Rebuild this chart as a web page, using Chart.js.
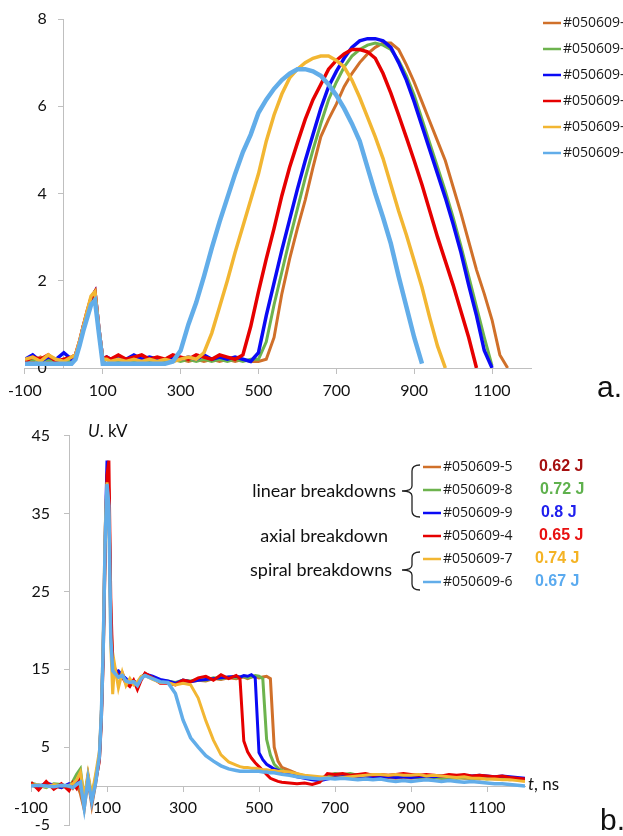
<!DOCTYPE html>
<html><head><meta charset="utf-8">
<script src="https://cdn.jsdelivr.net/npm/chart.js@4.4.1/dist/chart.umd.min.js"></script>
<style>
html,body{margin:0;padding:0;background:#fff;overflow:hidden;width:623px;height:836px;}
canvas{position:absolute;left:0;display:block;}
#ca{top:0;}
#cb{top:410px;}
</style></head><body>
<canvas id="ca" width="623" height="410" style="width:623px;height:410px"></canvas>
<canvas id="cb" width="623" height="426" style="width:623px;height:426px"></canvas>
<script>
// ---------- shared ----------
const seriesNames = ['#050609-5','#050609-8','#050609-9','#050609-4','#050609-7','#050609-6'];
const seriesColors = ['#D0702A','#6DB34E','#0A0AF5','#E60000','#F2B632','#62ADE9'];
const xTicks = [-100,100,300,500,700,900,1100];

// ---------- chart a (top) ----------
const yTicksA = [0,2,4,6,8];
const tA = [-100,-80,-60,-40,-20,0,20,30,40,50,60,70,80,90,100,110,120,140,160,180,200,220,240,260,280,300,320,340,360,380,400,420,440,460,480,500,520,540,560,580,600,620,640,660,680,700,720,740,760,780,800,820,840,860,880,900,920,940,960,980,1000,1020,1040,1060,1080,1100,1120,1140,1160,1180,1200];
const a5 = [0.2,0.15,0.25,0.15,0.2,0.15,0.2, 0.25,0.55,0.9,1.25,1.6,1.7,0.85,0.15,0.2,
  0.15,0.2,0.15,0.2,0.15,0.2,0.15,0.2,0.15,0.2,0.15,0.2,0.15,0.2,0.15,0.2,0.15,0.2,0.15,0.15,
  0.2,0.7,1.7,2.5,3.2,3.85,4.6,5.3,5.7,6.05,6.45,6.75,7.0,7.2,7.35,7.45,7.45,7.3,6.95,6.55,6.1,5.65,5.2,4.75,4.15,3.55,2.9,2.25,1.7,1.1,0.3,0,null,null,null];
const a8 = [0.15,0.2,0.15,0.2,0.15,0.2,0.15, 0.25,0.5,0.9,1.2,1.55,1.7,0.8,0.15,0.2,
  0.2,0.15,0.2,0.15,0.2,0.15,0.2,0.15,0.2,0.15,0.2,0.15,0.2,0.15,0.2,0.15,0.2,0.15,0.2,0.2,
  0.6,1.45,2.2,2.95,3.65,4.35,5.0,5.6,6.15,6.55,6.9,7.15,7.3,7.4,7.45,7.4,7.3,7.05,6.7,6.25,5.7,5.15,4.6,4.05,3.45,2.8,2.1,1.4,0.7,0.05,null,null,null,null,null];
const a9 = [0.2,0.3,0.15,0.25,0.2,0.35,0.2, 0.3,0.55,0.95,1.25,1.6,1.75,0.9,0.2,0.25,
  0.2,0.25,0.2,0.3,0.2,0.25,0.2,0.2,0.25,0.2,0.25,0.2,0.3,0.2,0.25,0.2,0.25,0.2,0.15,0.35,
  1.2,1.95,2.7,3.4,4.1,4.75,5.35,5.95,6.45,6.8,7.1,7.35,7.5,7.55,7.55,7.5,7.35,7.0,6.6,6.1,5.55,5.0,4.45,3.9,3.3,2.65,1.9,1.2,0.4,0,null,null,null,null,null];
const a4 = [0.15,0.25,0.2,0.3,0.15,0.2,0.25, 0.3,0.6,0.95,1.3,1.6,1.75,0.9,0.2,0.25,
  0.2,0.3,0.2,0.25,0.3,0.2,0.25,0.2,0.3,0.25,0.2,0.3,0.25,0.2,0.3,0.25,0.2,0.3,0.95,1.75,
  2.5,3.2,3.95,4.6,5.16,5.7,6.15,6.5,6.85,7.05,7.2,7.3,7.3,7.25,7.1,6.75,6.3,5.8,5.28,4.75,4.2,3.6,3.0,2.45,1.9,1.3,0.7,0,null,null,null,null,null,null,null];
const a7 = [0.2,0.25,0.15,0.3,0.2,0.15,0.25, 0.3,0.6,0.95,1.3,1.65,1.75,0.9,0.2,0.2,
  0.15,0.2,0.15,0.2,0.15,0.2,0.15,0.2,0.15,0.2,0.25,0.2,0.35,0.8,1.4,2.0,2.65,3.25,3.85,4.45,
  5.2,5.8,6.28,6.65,6.85,7.0,7.1,7.15,7.15,7.05,6.9,6.6,6.2,5.75,5.3,4.8,4.2,3.6,3.05,2.45,1.85,1.15,0.5,0,null,null,null,null,null,null,null,null,null,null,null];
const a6 = [0.1,0.1,0.1,0.1,0.1,0.1,0.1, 0.2,0.5,0.85,1.15,1.45,1.55,0.8,0.1,0.1,
  0.1,0.1,0.1,0.1,0.1,0.1,0.1,0.1,0.15,0.4,1.0,1.5,2.1,2.75,3.35,3.9,4.45,4.95,5.35,5.85,
  6.15,6.4,6.6,6.75,6.85,6.85,6.8,6.7,6.5,6.25,5.95,5.6,5.2,4.6,4.0,3.45,2.85,2.1,1.4,0.7,0.1,null,null,null,null,null,null,null,null,null,null,null,null,null,null];

// ---------- chart b (bottom) ----------
const yTicksB = [-5,5,15,25,35,45];
const tB = [-100,-80,-60,-40,-20,0,10,20,30,40,50,60,70,80,85,90,95,100,105,110,115,120,130,140,150,160,170,180,190,200,220,240,260,280,300,320,340,360,380,400,420,440,450,460,470,480,490,500,510,520,530,540,550,560,580,600,620,640,660,680,700,720,740,760,780,800,820,840,860,880,900,920,940,960,980,1000,1020,1040,1060,1080,1100,1120,1140,1160,1180,1200];
const b5 = [0.2,-0.3,0.3,0.0,-0.2,0.2,-0.3,0.4,-1.0,-3.0,0.8,-2.5,0.3,3.5,
  9,18,31,40,38,22,15.2,
  14.8,14.2,14.6,13.4,13.2,13.6,12.9,13.8,14.3,13.9,13.5,
  13.4,13.2,13.5,13.4,13.6,13.5,13.8,13.7,13.9,13.8,
  13.9,14.0,13.8,14.0,14.1,13.9,14.0,14.1,13.8,5.0,3.2,2.4,
  2.0,1.6,1.3,1.1,0.9,1.0,1.2,1.3,1.2,1.3,1.2,1.1,1.2,1.1,1.0,1.1,1.0,1.1,1.0,1.1,1.0,1.0,1.1,1.0,1.0,0.9,1.0,0.9,0.9,0.8,0.9,0.8];
const b8 = [0.4,0.1,-0.2,0.3,0.2,-0.1,0.6,1.5,2.2,-1.8,1.4,-1.5,1.2,3.8,
  8.5,17,30,39.5,37,21,15.5,
  15.0,14.5,14.3,13.6,13.4,13.3,13.2,14.0,14.4,14.0,13.6,
  13.5,13.3,13.6,13.5,13.7,13.6,13.9,13.8,14.0,13.9,
  14.0,14.1,13.9,14.0,14.2,14.1,13.8,6.0,4.0,2.8,2.3,2.0,
  1.7,1.3,1.1,0.9,1.0,1.3,1.6,1.5,1.6,1.4,1.5,1.3,1.4,1.3,1.2,1.3,1.2,1.1,1.2,1.1,1.0,1.1,1.0,1.1,1.0,1.0,0.9,1.0,0.9,1.0,0.9,0.8];
const b9 = [0.3,-0.1,0.4,0.1,-0.2,0.3,0.0,0.5,0.8,-2.0,1.0,-1.8,0.8,4.0,
  9,18,32,41.8,37,20,15.0,
  14.6,14.8,14.2,13.8,13.2,13.5,13.0,13.9,14.4,14.1,13.7,
  13.5,13.2,13.6,13.4,13.6,13.7,13.8,13.9,14.0,14.1,
  14.0,14.2,14.1,14.3,13.9,4.3,3.4,2.8,2.5,2.2,2.0,1.8,
  1.5,1.2,1.0,0.8,0.7,0.9,1.1,1.2,1.3,1.2,1.3,1.2,1.1,1.2,1.1,1.2,1.1,1.2,1.3,1.2,1.3,1.2,1.3,1.4,1.3,1.4,1.3,1.2,1.3,1.2,1.1,1.0];
const b4 = [0.5,-0.5,0.6,-0.4,0.3,-0.6,0.4,-0.3,1.0,-2.4,1.2,-2.0,0.6,3.2,
  8,16,29,40,41.8,24,15.8,
  15.2,14.0,14.0,13.2,12.8,13.6,12.4,13.6,14.5,13.9,13.2,
  13.2,13.0,13.6,13.4,13.9,14.1,13.6,14.3,13.8,14.2,
  13.8,5.8,4.4,3.6,3.0,2.5,2.0,1.5,1.0,0.8,0.6,0.5,
  0.4,0.3,0.4,0.2,0.5,1.6,1.5,1.6,1.4,1.5,1.6,1.4,1.5,1.4,1.5,1.6,1.5,1.4,1.5,1.4,1.3,1.5,1.4,1.5,1.3,1.4,1.3,1.2,1.3,1.1,1.0,0.9];
const b7 = [0.1,0.2,-0.1,0.2,0.0,0.1,0.3,0.8,1.8,-1.5,1.6,-1.2,1.5,4.5,
  9.5,19,33,39,35,18,11.8,
  15.6,12.6,14.6,12.9,13.8,13.0,13.4,14.1,14.2,13.7,13.3,
  13.3,13.0,13.2,13.0,11.3,8.4,5.9,4.0,3.1,2.7,
  2.5,2.4,2.4,2.3,2.3,2.2,2.1,2.1,2.0,2.0,1.9,1.9,
  1.8,1.6,1.4,1.3,1.2,1.1,1.0,1.1,1.2,1.3,1.4,1.5,1.5,1.4,1.5,1.4,1.4,1.5,1.3,1.4,1.3,1.2,1.1,1.2,1.0,1.0,0.9,0.9,0.8,0.8,0.7,0.6];
const b6 = [0.0,0.1,0.0,-0.1,0.1,0.0,-0.2,0.2,0.5,-2.8,0.9,-2.0,0.4,3.8,
  9,17.5,31,38.8,36,19,14.8,
  14.5,14.0,14.2,13.5,13.3,13.4,12.9,13.8,14.2,13.8,13.4,
  13.3,11.9,8.5,6.2,5.0,3.9,3.2,2.6,2.2,2.0,
  1.9,1.9,1.9,1.9,1.9,1.9,1.8,1.8,1.7,1.7,1.6,1.5,
  1.4,1.2,1.1,1.0,0.9,1.0,0.9,1.0,0.9,0.8,0.9,0.8,0.9,0.7,0.6,0.7,0.6,0.7,0.8,0.7,0.6,0.7,0.6,0.5,0.6,0.5,0.4,0.3,0.3,0.2,0.1,0.0];

// annotation texts for chart b
const energyLabels = ['0.62 J','0.72 J','0.8 J','0.65 J','0.74 J','0.67 J'];
const energyColors = ['#A51010','#5FB14D','#2020EE','#E81010','#F4B324','#5AAAEF'];
const groupLabels = ['linear breakdowns','axial breakdown','spiral breakdowns'];

// ---------- helpers ----------
const AXIS = '#BFBFBF';
function fixedTicks(arr){ return s => { s.ticks = arr.map(v => ({value:v})); }; }
function makeDatasets(t, series, widths){
  return series.map((s,i) => ({
    label: seriesNames[i],
    data: t.map((x,j) => ({x:x, y:s[j]})),
    borderColor: seriesColors[i],
    backgroundColor: seriesColors[i],
    borderWidth: widths[i],
    pointRadius: 0,
    tension: 0,
    fill: false,
    spanGaps: false,
    order: series.length - 1 - i
  }));
}
function makeScales(yMin, yMax, yT, xPad){
  return {
    x: {type:'linear', min:-100, max:1200, position:{y:0},
        afterBuildTicks: fixedTicks(xTicks),
        grid:{display:true, drawOnChartArea:false, drawTicks:true, tickLength:5, color:AXIS},
        border:{display:true, color:AXIS, width:1},
        ticks:{font:{family:'Lato', size:16}, color:'#111', padding:xPad, maxRotation:0, autoSkip:false,
               callback: v => String(v)}},
    y: {type:'linear', min:yMin, max:yMax, position:{x:0},
        afterBuildTicks: fixedTicks(yT),
        grid:{display:true, drawOnChartArea:false, drawTicks:true, tickLength:5, color:AXIS},
        border:{display:true, color:AXIS, width:1},
        ticks:{font:{family:'Lato', size:16}, color:'#111', padding:0, autoSkip:false,
               callback: v => String(v)}}
  };
}
const yShift = {
  id:'yShift',
  beforeDraw(chart, args, opts){
    const items = chart.scales.y.getLabelItems();
    items.forEach(it => { if(!it._sh){ it.options.translation[0] -= opts.gap; it._sh = true; } });
  }
};
function legendLines(ctx, x0, x1, tx, ys, font){
  ctx.font = font; ctx.textBaseline = 'middle'; ctx.textAlign = 'left';
  seriesNames.forEach((n,i) => {
    ctx.strokeStyle = seriesColors[i]; ctx.lineWidth = 2.5;
    ctx.beginPath(); ctx.moveTo(x0, ys[i]); ctx.lineTo(x1, ys[i]); ctx.stroke();
    ctx.fillStyle = '#1a1a1a'; ctx.fillText(n, tx, ys[i]);
  });
}
function brace(ctx, xTip, xStem, xEnd, yTop, yMid, yBot){
  ctx.beginPath();
  ctx.moveTo(xEnd, yTop);
  ctx.quadraticCurveTo(xStem, yTop, xStem, yTop+6);
  ctx.lineTo(xStem, yMid-5);
  ctx.quadraticCurveTo(xStem, yMid, xTip, yMid);
  ctx.quadraticCurveTo(xStem, yMid, xStem, yMid+5);
  ctx.lineTo(xStem, yBot-6);
  ctx.quadraticCurveTo(xStem, yBot, xEnd, yBot);
  ctx.stroke();
}

const annA = {
  id:'annA',
  afterDraw(chart){
    const ctx = chart.ctx; ctx.save();
    legendLines(ctx, 543, 561, 563, [23,49,75,101,127,153], '14px "Open Sans"');
    ctx.fillStyle = '#111'; ctx.font = '30px "Liberation Sans"'; ctx.textBaseline = 'alphabetic';
    ctx.fillText('a.', 597, 397);
    ctx.restore();
  }
};
const annB = {
  id:'annB',
  afterDraw(chart){
    const ctx = chart.ctx; ctx.save();
    const ys = [57,80,103,126,149,172];
    legendLines(ctx, 423, 441, 443, ys, '14px "Open Sans"');
    ctx.font = 'bold 16px "Liberation Sans"';
    const ex = [539,540,541,539,535,535];
    energyLabels.forEach((l,i) => { ctx.fillStyle = energyColors[i]; ctx.fillText(l, ex[i], ys[i]); });
    ctx.fillStyle = '#111'; ctx.font = '18px Lato'; ctx.textAlign = 'right';
    ctx.fillText(groupLabels[0], 396, 81);
    ctx.fillText(groupLabels[1], 388, 126);
    ctx.fillText(groupLabels[2], 392, 160);
    ctx.strokeStyle = '#222'; ctx.lineWidth = 1.3;
    brace(ctx, 402, 412, 420, 55, 81, 107);
    brace(ctx, 402, 412, 420, 142, 160, 180);
    // axis titles
    ctx.textAlign = 'left'; ctx.fillStyle = '#111';
    ctx.font = 'italic 17px Lato'; ctx.fillText('U', 88, 22);
    let w = ctx.measureText('U').width;
    ctx.font = '17px Lato'; ctx.fillText('. kV', 88 + w, 22);
    ctx.font = 'italic 17px Lato'; ctx.fillText('t', 528, 375);
    w = ctx.measureText('t').width;
    ctx.font = '17px Lato'; ctx.fillText(', ns', 528 + w, 375);
    ctx.font = '30px "Liberation Sans"'; ctx.textBaseline = 'alphabetic';
    ctx.fillText('b.', 600, 420);
    ctx.restore();
  }
};

Chart.defaults.font.family = 'Lato';
new Chart(document.getElementById('ca'), {
  type:'line',
  data:{datasets: makeDatasets(tA, [a5,a8,a9,a4,a7,a6], [3,3,3.5,3.5,3.5,4.5])},
  options:{
    responsive:false, animation:false, events:[],
    layout:{padding:{left:24, right:92, top:19, bottom:42}},
    scales: makeScales(0, 8, yTicksA, 8),
    plugins:{legend:{display:false}, tooltip:{enabled:false}, yShift:{gap:17}}
  },
  plugins:[yShift, annA]
});
new Chart(document.getElementById('cb'), {
  type:'line',
  data:{datasets: makeDatasets(tB, [b5,b8,b9,b4,b7,b6], [3,3,3,3,3,3.5])},
  options:{
    responsive:false, animation:false, events:[],
    layout:{padding:{left:31, right:98, top:25.7, bottom:11}},
    scales: makeScales(-5, 45, yTicksB, 7),
    plugins:{legend:{display:false}, tooltip:{enabled:false}, yShift:{gap:19}}
  },
  plugins:[yShift, annB]
});
</script>
</body></html>
